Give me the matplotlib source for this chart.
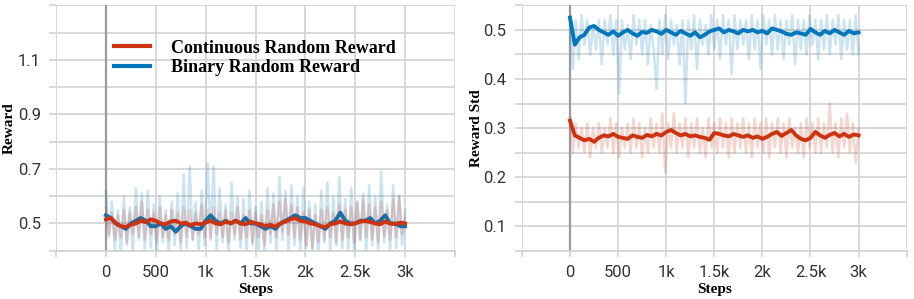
import numpy as np
import matplotlib
matplotlib.use("Agg")
import matplotlib.pyplot as plt
from matplotlib.ticker import MultipleLocator, FuncFormatter

# raw points every 30 steps, smoothed points every 50 steps
raw_steps = np.arange(0, 3001, 30)
smooth_steps = np.arange(0, 3001, 50)

reward_binary_raw = [
    0.62, 0.45, 0.58, 0.40, 0.55, 0.38, 0.60, 0.42, 0.56, 0.39,
    0.63, 0.44, 0.61, 0.40, 0.62, 0.41, 0.57, 0.38, 0.60, 0.43,
    0.55, 0.39, 0.58, 0.42, 0.61, 0.40, 0.68, 0.41, 0.71, 0.44,
    0.58, 0.39, 0.62, 0.42, 0.72, 0.45, 0.71, 0.40, 0.63, 0.43,
    0.57, 0.38, 0.65, 0.44, 0.60, 0.41, 0.59, 0.39, 0.62, 0.42,
    0.56, 0.40, 0.58, 0.39, 0.63, 0.43, 0.61, 0.38, 0.67, 0.44,
    0.62, 0.40, 0.64, 0.42, 0.60, 0.39, 0.63, 0.41, 0.58, 0.40,
    0.57, 0.38, 0.62, 0.43, 0.65, 0.39, 0.60, 0.42, 0.67, 0.41,
    0.59, 0.40, 0.63, 0.38, 0.58, 0.44, 0.61, 0.39, 0.64, 0.42,
    0.60, 0.40, 0.69, 0.43, 0.57, 0.39, 0.64, 0.41, 0.60, 0.42,
    0.55]
reward_cont_raw = [
    0.56, 0.46, 0.54, 0.44, 0.53, 0.45, 0.55, 0.43, 0.54, 0.46,
    0.56, 0.45, 0.58, 0.44, 0.55, 0.46, 0.54, 0.43, 0.56, 0.45,
    0.53, 0.44, 0.55, 0.46, 0.54, 0.43, 0.56, 0.45, 0.55, 0.44,
    0.54, 0.46, 0.57, 0.45, 0.55, 0.44, 0.56, 0.46, 0.54, 0.45,
    0.55, 0.43, 0.54, 0.46, 0.56, 0.44, 0.53, 0.45, 0.55, 0.43,
    0.54, 0.45, 0.53, 0.42, 0.55, 0.46, 0.57, 0.45, 0.58, 0.47,
    0.59, 0.46, 0.57, 0.45, 0.56, 0.44, 0.54, 0.42, 0.55, 0.41,
    0.53, 0.43, 0.55, 0.44, 0.56, 0.45, 0.54, 0.43, 0.57, 0.44,
    0.55, 0.45, 0.56, 0.43, 0.58, 0.44, 0.59, 0.45, 0.57, 0.44,
    0.56, 0.43, 0.58, 0.45, 0.55, 0.44, 0.59, 0.45, 0.60, 0.46,
    0.52]
reward_binary_smooth = [
    0.53, 0.52, 0.50, 0.49, 0.48, 0.50, 0.51, 0.52, 0.51, 0.49,
    0.49, 0.50, 0.48, 0.49, 0.47, 0.49, 0.50, 0.49, 0.48, 0.48,
    0.51, 0.53, 0.51, 0.50, 0.51, 0.50, 0.51, 0.50, 0.52, 0.50,
    0.50, 0.49, 0.48, 0.49, 0.48, 0.50, 0.51, 0.52, 0.53, 0.52,
    0.52, 0.51, 0.50, 0.49, 0.48, 0.50, 0.51, 0.54, 0.51, 0.50,
    0.50, 0.51, 0.51, 0.52, 0.50, 0.51, 0.53, 0.50, 0.50, 0.49,
    0.49]
reward_cont_smooth = [
    0.515, 0.52, 0.50, 0.49, 0.487, 0.495, 0.50, 0.51, 0.505, 0.515,
    0.51, 0.50, 0.497, 0.507, 0.51, 0.50, 0.503, 0.493, 0.50, 0.497,
    0.503, 0.51, 0.50, 0.497, 0.507, 0.50, 0.51, 0.50, 0.497, 0.507,
    0.50, 0.497, 0.49, 0.495, 0.488, 0.50, 0.507, 0.515, 0.52, 0.51,
    0.507, 0.50, 0.497, 0.49, 0.487, 0.497, 0.50, 0.507, 0.50, 0.497,
    0.50, 0.507, 0.51, 0.505, 0.50, 0.497, 0.507, 0.50, 0.497, 0.503,
    0.50]

std_binary_raw = [
    0.52, 0.42, 0.52, 0.44, 0.53, 0.47, 0.52, 0.45, 0.51, 0.46,
    0.52, 0.43, 0.52, 0.47, 0.53, 0.45, 0.52, 0.37, 0.52, 0.46,
    0.51, 0.44, 0.53, 0.47, 0.52, 0.45, 0.52, 0.43, 0.51, 0.46,
    0.38, 0.52, 0.45, 0.53, 0.44, 0.52, 0.47, 0.51, 0.43, 0.52,
    0.35, 0.52, 0.46, 0.53, 0.42, 0.52, 0.47, 0.51, 0.45, 0.53,
    0.46, 0.52, 0.44, 0.53, 0.47, 0.52, 0.41, 0.53, 0.46, 0.52,
    0.47, 0.52, 0.44, 0.53, 0.46, 0.52, 0.42, 0.53, 0.47, 0.52,
    0.45, 0.53, 0.46, 0.52, 0.44, 0.52, 0.47, 0.53, 0.43, 0.52,
    0.46, 0.52, 0.45, 0.53, 0.47, 0.52, 0.44, 0.52, 0.46, 0.53,
    0.45, 0.52, 0.47, 0.53, 0.44, 0.52, 0.46, 0.52, 0.45, 0.53,
    0.45]
std_cont_raw = [
    0.32, 0.25, 0.31, 0.26, 0.30, 0.25, 0.31, 0.24, 0.30, 0.26,
    0.31, 0.25, 0.30, 0.26, 0.32, 0.25, 0.31, 0.24, 0.30, 0.26,
    0.31, 0.25, 0.32, 0.26, 0.31, 0.24, 0.30, 0.25, 0.32, 0.26,
    0.31, 0.25, 0.33, 0.21, 0.31, 0.26, 0.33, 0.25, 0.31, 0.26,
    0.32, 0.24, 0.31, 0.26, 0.32, 0.25, 0.30, 0.24, 0.32, 0.26,
    0.31, 0.25, 0.32, 0.26, 0.31, 0.24, 0.32, 0.25, 0.31, 0.26,
    0.32, 0.25, 0.31, 0.24, 0.32, 0.26, 0.31, 0.25, 0.32, 0.24,
    0.31, 0.26, 0.32, 0.25, 0.31, 0.24, 0.32, 0.26, 0.30, 0.25,
    0.31, 0.24, 0.32, 0.26, 0.31, 0.25, 0.32, 0.25, 0.31, 0.26,
    0.35, 0.25, 0.31, 0.24, 0.32, 0.26, 0.33, 0.25, 0.31, 0.23,
    0.30]
std_binary_smooth = [
    0.525, 0.470, 0.485, 0.490, 0.505, 0.508, 0.500, 0.495, 0.490, 0.497,
    0.488, 0.495, 0.500, 0.493, 0.488, 0.496, 0.494, 0.500, 0.497, 0.492,
    0.500, 0.495, 0.490, 0.498, 0.493, 0.488, 0.495, 0.485, 0.490, 0.497,
    0.500, 0.503, 0.495, 0.500, 0.497, 0.493, 0.500, 0.497, 0.500, 0.495,
    0.498, 0.493, 0.503, 0.500, 0.497, 0.492, 0.490, 0.495, 0.493, 0.490,
    0.502, 0.495, 0.490, 0.498, 0.493, 0.500, 0.495, 0.490, 0.498, 0.493,
    0.495]
std_cont_smooth = [
    0.315, 0.285, 0.280, 0.275, 0.278, 0.272, 0.280, 0.285, 0.283, 0.288,
    0.282, 0.280, 0.278, 0.285, 0.282, 0.280, 0.286, 0.283, 0.288, 0.285,
    0.292, 0.296, 0.290, 0.285, 0.288, 0.283, 0.285, 0.282, 0.280, 0.276,
    0.290, 0.288, 0.285, 0.283, 0.288, 0.285, 0.282, 0.285, 0.280, 0.283,
    0.278, 0.282, 0.288, 0.292, 0.284, 0.290, 0.296, 0.285, 0.278, 0.275,
    0.280, 0.292, 0.285, 0.280, 0.286, 0.290, 0.283, 0.288, 0.282, 0.287,
    0.285]

RED = "#cc3311"
BLUE = "#0077bb"
GRID = "#d2d2d2"

def k_fmt(v, pos):
    if v < 0 or v > 3000:
        return ""
    if v == 0:
        return "0"
    if v < 1000:
        return "%d" % v
    return ("%gk" % (v / 1000.0))

def style_axes(ax, ylim, ylabel, ylab_x):
    ax.set_xlim(-500, 3500)
    ax.set_ylim(*ylim)
    ax.xaxis.set_major_locator(MultipleLocator(500))
    ax.xaxis.set_major_formatter(FuncFormatter(k_fmt))
    ax.grid(True, which="both", color=GRID, linewidth=1.2)
    ax.set_axisbelow(True)
    for s in ["top", "right", "left"]:
        ax.spines[s].set_visible(False)
    ax.spines["bottom"].set_color(GRID)
    ax.spines["bottom"].set_linewidth(1.2)
    ax.tick_params(axis="y", which="both", length=5, width=1.2, color=GRID,
                   labelsize=12, labelcolor="#333333", pad=6)
    ax.tick_params(axis="x", length=4.5, width=1.2, color=GRID,
                   labelsize=12, labelcolor="#333333", pad=5.5)
    for lab in ax.get_xticklabels() + ax.get_yticklabels():
        lab.set_fontfamily("Roboto")
    ax.axvline(0, color="#9a9a9a", linewidth=1.6, zorder=1.5)
    ax.set_xlabel("Steps", fontfamily="Liberation Serif", fontweight="bold",
                  fontsize=11)
    ax.set_ylabel(ylabel, fontfamily="Liberation Serif", fontweight="bold",
                  fontsize=11)
    ax.xaxis.set_label_coords(0.5, -0.13)
    ax.yaxis.set_label_coords(ylab_x, 0.5)

fig = plt.figure(figsize=(9.14, 2.99), dpi=100)
ax1 = fig.add_axes([0.0613, 0.1615, 0.4365, 0.8205])
ax2 = fig.add_axes([0.571, 0.1615, 0.421, 0.8205])

# left: reward
ax1.plot(raw_steps, reward_binary_raw, color=BLUE, alpha=0.2, lw=1.8, zorder=2)
ax1.plot(smooth_steps, reward_binary_smooth, color=BLUE, lw=2.8, zorder=3)
ax1.plot(raw_steps, reward_cont_raw, color=RED, alpha=0.2, lw=1.8, zorder=4)
ax1.plot(smooth_steps, reward_cont_smooth, color=RED, lw=2.8, zorder=5)
style_axes(ax1, (0.4, 1.3), "Reward", -0.10)
ax1.set_yticks([0.5, 0.7, 0.9, 1.1])
ax1.set_yticks(np.arange(0.4, 1.31, 0.1), minor=True)
ax1.set_yticklabels(["0.5", "0.7", "0.9", "1.1"], fontfamily="Roboto")

h1, = ax1.plot([], [], color=RED, lw=3)
h2, = ax1.plot([], [], color=BLUE, lw=3)
ax1.legend([h1, h2], ["Continuous Random Reward", "Binary Random Reward"],
           loc="upper left", bbox_to_anchor=(0.145, 0.86), frameon=False,
           borderpad=0, borderaxespad=0, handlelength=2.0, handletextpad=1.15,
           labelspacing=0.15,
           prop={"family": "Liberation Serif", "weight": "bold", "size": 13})

# right: reward std
ax2.plot(raw_steps, std_binary_raw, color=BLUE, alpha=0.2, lw=1.8, zorder=2)
ax2.plot(smooth_steps, std_binary_smooth, color=BLUE, lw=2.8, zorder=3)
ax2.plot(raw_steps, std_cont_raw, color=RED, alpha=0.2, lw=1.8, zorder=4)
ax2.plot(smooth_steps, std_cont_smooth, color=RED, lw=2.8, zorder=5)
style_axes(ax2, (0.05, 0.55), "Reward Std", -0.101)
ax2.set_yticks([0.1, 0.2, 0.3, 0.4, 0.5])
ax2.set_yticks(np.arange(0.05, 0.56, 0.05), minor=True)
ax2.set_yticklabels(["0.1", "0.2", "0.3", "0.4", "0.5"], fontfamily="Roboto")

fig.savefig("out.png", dpi=100)
